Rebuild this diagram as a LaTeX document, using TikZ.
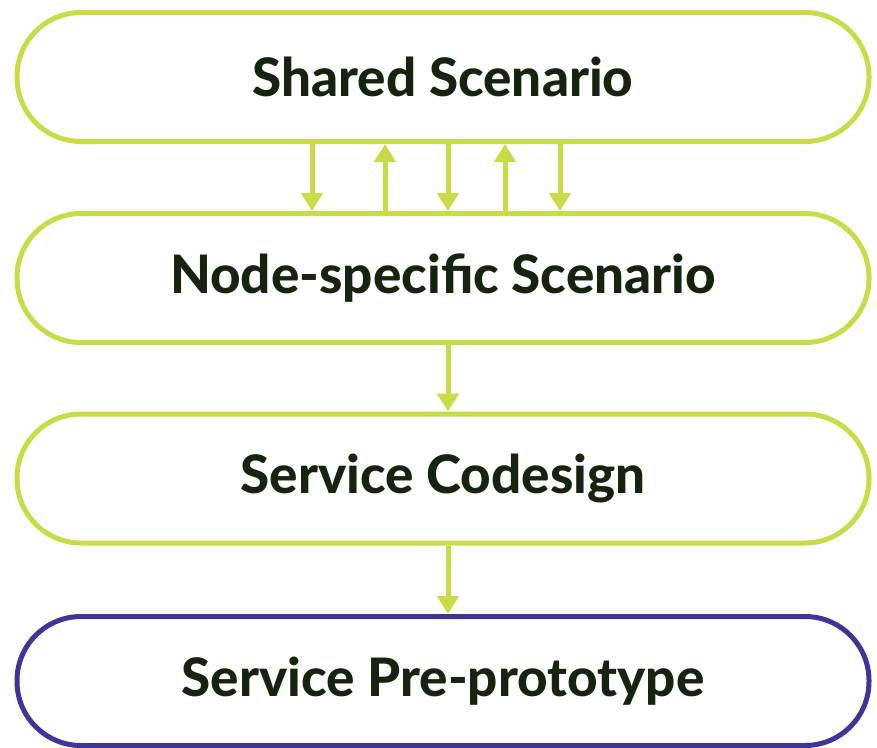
\documentclass[tikz,border=0pt]{standalone}
\usepackage{fontspec}
\setmainfont{Lato}[BoldFont=Lato Heavy]
\usetikzlibrary{arrows.meta}
\definecolor{lime}{HTML}{C9DC47}
\definecolor{deeppurple}{HTML}{40339A}
\definecolor{inkgreen}{HTML}{16240F}
\tikzset{
  stage/.style={draw=lime, line width=5pt, rounded corners=64pt, minimum width=852pt, minimum height=129pt,
    inner sep=0pt, text=inkgreen, font=\fontsize{53}{60}\selectfont\bfseries},
  flow/.style={draw=lime, line width=5pt, -{Triangle[width=21pt,length=18pt]}, fill=lime}
}
\begin{document}
\begin{tikzpicture}[x=1pt,y=-1pt]
\useasboundingbox (0,0) rectangle (877,747);
\node[stage] (s1) at (443,77) {Shared Scenario};
\node[stage] (s2) at (443,278) {Node-specific Scenario};
\node[stage] (s3) at (443,478.5) {Service Codesign};
\node[stage, draw=deeppurple] (s4) at (443,681) {Service Pre-prototype};
\coordinate (c1) at (312,0);
\coordinate (c2) at (385,0);
\coordinate (c3) at (448,0);
\coordinate (c4) at (505,0);
\coordinate (c5) at (560,0);
\draw[flow] (s1.south -| c1) -- (s2.north -| c1);
\draw[flow] (s2.north -| c2) -- (s1.south -| c2);
\draw[flow] (s1.south -| c3) -- (s2.north -| c3);
\draw[flow] (s2.north -| c4) -- (s1.south -| c4);
\draw[flow] (s1.south -| c5) -- (s2.north -| c5);
\draw[flow] (s2.south -| c3) -- (s3.north -| c3);
\draw[flow] (s3.south -| c3) -- (s4.north -| c3);
\end{tikzpicture}
\end{document}
